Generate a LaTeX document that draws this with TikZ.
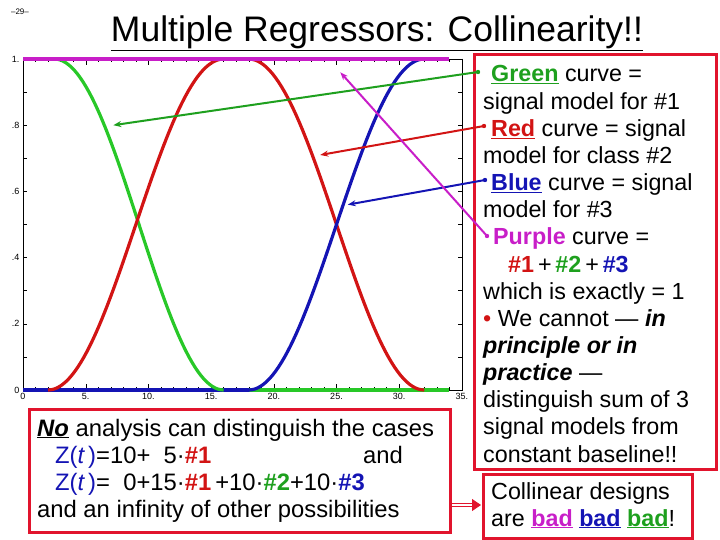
\documentclass[tikz,border=0pt]{standalone}
\usepackage{fontspec}
\setmainfont{Liberation Sans}
\usetikzlibrary{arrows.meta}
\definecolor{cg}{RGB}{30,160,30}
\definecolor{lg}{RGB}{40,200,40}
\definecolor{cr}{RGB}{210,20,20}
\definecolor{cb}{RGB}{20,20,180}
\definecolor{cp}{RGB}{200,30,200}
\definecolor{fr}{RGB}{225,20,45}
\begin{document}
\begin{tikzpicture}[x=1pt,y=-1pt,
  txt/.style={anchor=base west,inner sep=0pt,font=\fontsize{23.3}{26}\selectfont},
  btxt/.style={anchor=base west,inner sep=0pt,font=\fontsize{23.8}{26}\selectfont},
  ptr/.style={line width=2pt,-{Stealth[length=8pt,width=6pt]}},
  frame/.style={draw=fr,line width=3pt},
  tick/.style={font=\fontsize{9}{10}\selectfont,inner sep=1pt}]
\useasboundingbox (0,0) rectangle (720,540);
\node[font=\fontsize{8}{9}\selectfont] (pg) at (20,12) {--29--};
\node[font=\fontsize{35.5}{38}\selectfont,inner sep=0pt] (title) at (377,33) {\underline{Multiple Regressors: Collinearity!!}};
% plot
\begin{scope}[shift={(23,390)},x=12.54pt,y=331pt]
  \draw[line width=0.6pt] (0,0) rectangle (35,1);
  \foreach \t in {0,1,...,35}{\draw (\t,0)--(\t,0.008) (\t,1)--(\t,0.992);}
  \foreach \t in {0,5,...,35}{\draw (\t,0)--(\t,0.018) (\t,1)--(\t,0.982);}
  \foreach \v in {0,0.1,...,1.0}{\draw (0,\v)--(0.35,\v) (35,\v)--(34.65,\v);}
  \foreach \t/\l in {0/0,5/5.,10/10.,15/15.,20/20.,25/25.,30/30.,35/35.}{\node[tick,below] (xl\t) at (\t,-0.005) {\l};}
  \foreach \v/\l in {0/0,0.2/.2,0.4/.4,0.6/.6,0.8/.8,1/1.}{\node[tick,left] at (-0.2,\v) {\l};}
  \draw[cb,line width=3.2pt] (0,0)--(18,0);
  \draw[lg,line width=3.2pt] (18,0)--(34,0);
  \draw[lg,line width=3.2pt] (2,1)--(2.5,1) -- plot[domain=2.5:16,samples=60] (\x,{(1+cos(180*(\x-2.5)/13.5))/2});
  \draw[cr,line width=3.2pt] plot[domain=2:16,samples=60] (\x,{(1-cos(180*(\x-2)/14))/2}) -- (18,1) -- plot[domain=18:32,samples=60] (\x,{(1+cos(180*(\x-18)/14))/2});
  \draw[cb,line width=3.2pt] plot[domain=18:32,samples=60] (\x,{(1-cos(180*(\x-18)/14))/2});
  \draw[cp,line width=3.2pt] (0,1)--(34,1);
  \coordinate (gt) at (7.2,0.8);
  \coordinate (rt) at (23.7,0.71);
  \coordinate (bt) at (25.9,0.56);
  \coordinate (pt) at (25.3,0.96);
\end{scope}
% boxes
\draw[frame] (474,55) rectangle (716,469);
\draw[frame] (483,474) rectangle (692,538);
\draw[frame] (29,409) rectangle (450,532);
\def\s{27.15}
\node[txt] (l1) at (491,82) {\textcolor{cg}{\textbf{\underline{Green}}} curve =};
\node[txt] at (483,82+\s) {signal model for \#1};
\node[txt] (l3) at (491,82+2*\s) {\textcolor{cr}{\textbf{\underline{Red}}} curve = signal};
\node[txt] at (483,82+3*\s) {model for class \#2};
\node[txt] (l5) at (491,82+4*\s) {\textcolor{cb}{\textbf{\underline{Blue}}} curve = signal};
\node[txt] at (483,82+5*\s) {model for \#3};
\node[txt] (l7) at (493,82+6*\s) {\textcolor{cp}{\textbf{Purple}} curve =};
\node[txt] at (508,82+7*\s) {\textcolor{cr}{\textbf{\#1}}\,+\,\textcolor{cg}{\textbf{\#2}}\,+\,\textcolor{cb}{\textbf{\#3}}};
\node[txt] at (483,82+8*\s) {which is exactly = 1};
\node[txt] at (483,82+9*\s) {\textcolor{cr}{•} We cannot — \textbf{\textit{in}}};
\node[txt] at (483,82+10*\s) {\textbf{\textit{principle or in}}};
\node[txt] at (483,82+11*\s) {\textbf{\textit{practice}} —};
\node[txt] at (483,82+12*\s) {distinguish sum of 3};
\node[txt] at (483,82+13*\s) {signal models from};
\node[txt] at (483,82+14*\s) {constant baseline!!};
\node[txt] (c1) at (491,499) {Collinear designs};
\node[txt] at (491,526) {are \textcolor{cp}{\textbf{\underline{bad}}} \textcolor{cb}{\textbf{\underline{bad}}} \textcolor{cg}{\textbf{\underline{bad}}}!};
% bottom left
\node[btxt] (n1) at (37,436) {\textbf{\textit{\underline{No}}} analysis can distinguish the cases};
\node[btxt] at (55,463) {\textcolor{cb}{Z(\textit{t\,})}=10+\ \ 5·\textcolor{cr}{\textbf{\#1}}};
\node[btxt] at (363,463) {and};
\node[btxt] at (55,490) {\textcolor{cb}{Z(\textit{t\,})}=\ \ 0+15·\textcolor{cr}{\textbf{\#1}}\,+10·\textcolor{cg}{\textbf{\#2}}+10·\textcolor{cb}{\textbf{\#3}}};
\node[btxt] at (37,517) {and an infinity of other possibilities};
% pointers
\coordinate (gs) at (478,72);
\coordinate (rs) at (484,126);
\coordinate (bs) at (485,180);
\coordinate (ps) at (487,236);
\draw[ptr,cg] (gs)--(gt); \fill[cg] (gs) circle (2.2pt);
\draw[ptr,cr] (rs)--(rt); \fill[cr] (rs) circle (2.2pt);
\draw[ptr,cb] (bs)--(bt); \fill[cb] (bs) circle (2.2pt);
\draw[ptr,cp] (ps)--(pt); \fill[cp] (ps) circle (2.2pt);
\coordinate (ds) at (452,505);
\coordinate (de) at (481,505);
\draw[fr,double=white,double distance=2pt,line width=1pt,-{Triangle[length=9pt,width=12pt,fill=fr]}] (ds)--(de);
\end{tikzpicture}
\end{document}
